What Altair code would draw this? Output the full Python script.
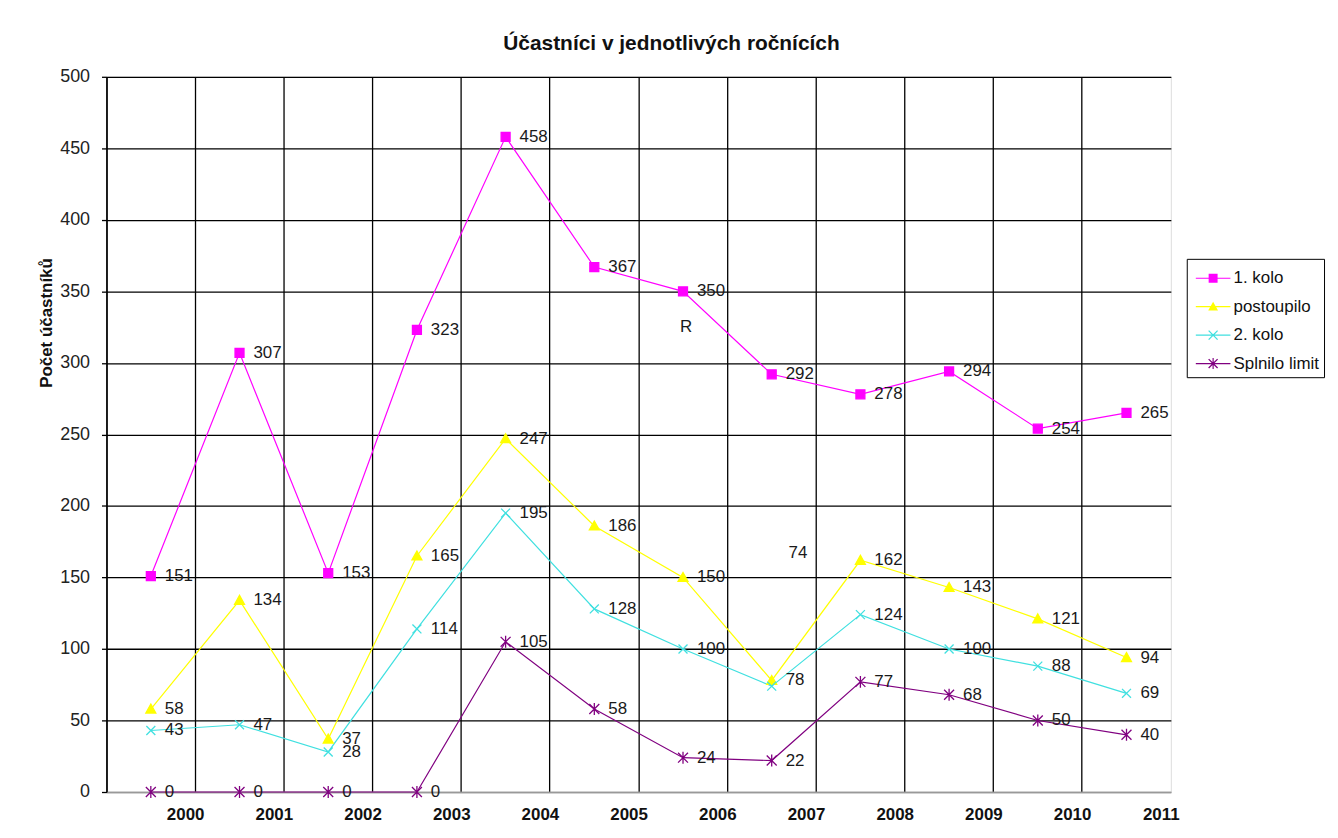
import altair as alt
import pandas as pd

# ---- data ----
years = ["2000", "2001", "2002", "2003", "2004", "2005",
         "2006", "2007", "2008", "2009", "2010", "2011"]
series_names = ["1. kolo", "postoupilo", "2. kolo", "Splnilo limit"]
kolo1 = [151, 307, 153, 323, 458, 367, 350, 292, 278, 294, 254, 265]
postoupilo = [58, 134, 37, 165, 247, 186, 150, 78, 162, 143, 121, 94]
kolo2 = [43, 47, 28, 114, 195, 128, 100, 74, 124, 100, 88, 69]
splnilo = [0, 0, 0, 0, 105, 58, 24, 22, 77, 68, 50, 40]
y_ticks = [0, 50, 100, 150, 200, 250, 300, 350, 400, 450, 500]

# a data label that was dragged away from its point, and a stray letter
moved_label_series = ["2. kolo"]
moved_label_year = ["2007"]
moved_label_value = [167]
stray_text = ["R"]
stray_year = ["2006"]
stray_value = [325]

# ---- styles ----
colors = ["#FF00FF", "#FFFF00", "#40E0E0", "#800080"]
marker_paths = [
    "M-0.9,-0.9H0.9V0.9H-0.9Z",
    "M0,-1L1,0.8H-1Z",
    "M-0.9,-0.9L0.9,0.9M-0.9,0.9L0.9,-0.9",
    "M-1,-1L1,1M-1,1L1,-1M0,-1.2V1.2",
]
# legend symbols: a thin line with the marker on it, built from filled outlines
_LINE = "M-1.2,-0.04H1.2V0.04H-1.2Z"
_D1 = "M-0.278,-0.342L0.342,0.278L0.278,0.342L-0.342,-0.278Z"
_D2 = "M-0.342,0.278L0.278,-0.342L0.342,-0.278L-0.278,0.342Z"
_V = "M-0.04,-0.38H0.04V0.38H-0.04Z"
legend_paths = [
    _LINE + "M-0.31,-0.31H0.31V0.31H-0.31Z",
    _LINE + "M0,-0.34L0.34,0.27H-0.34Z",
    _LINE + _D1 + _D2,
    _LINE + _D1 + _D2 + _V,
]
FONT = "Liberation Sans"

rows = []
for name, vals in zip(series_names, [kolo1, postoupilo, kolo2, splnilo]):
    for yr, v in zip(years, vals):
        rows.append({"year": yr, "series": name, "value": v, "label": str(v)})
df = pd.DataFrame(rows)

moved = set(zip(moved_label_series, moved_label_year))
lab_df = df[[(s, y) not in moved for s, y in zip(df.series, df.year)]]
moved_df = pd.DataFrame({
    "year": moved_label_year,
    "value": moved_label_value,
    "label": [str(df[(df.series == s) & (df.year == y)].value.iloc[0])
              for s, y in zip(moved_label_series, moved_label_year)],
})
stray_df = pd.DataFrame({"year": stray_year, "value": stray_value, "label": stray_text})

x_enc = alt.X(
    "year:O",
    scale=alt.Scale(type="band", domain=years, paddingInner=0, paddingOuter=0),
    axis=alt.Axis(
        title=None, grid=True, gridColor="black", gridWidth=1.3,
        bandPosition=0, ticks=False, domainColor="#999999", domainWidth=1.3,
        labelOffset=35, labelPadding=15, labelAngle=0,
        labelFontSize=17, labelFontWeight="bold", labelColor="#111111",
        labelFont=FONT, labelOverlap=False, labelBound=False, labelFlush=False,
    ),
)
y_enc = alt.Y(
    "value:Q",
    scale=alt.Scale(domain=[0, 500], nice=False),
    axis=alt.Axis(
        values=y_ticks, title="Počet účastníků",
        titleFont=FONT, titleFontSize=17, titleFontWeight="bold", titleColor="#111111",
        titleX=-60, titleY=247, titleBaseline="middle", titleAngle=270,
        grid=True,
        gridColor={"condition": {"test": "datum.value === 0", "value": "#999999"},
                   "value": "black"},
        gridWidth=1.3,
        domainColor="black", domainWidth=1.3, tickColor="black", tickSize=5, tickWidth=1.3,
        labelFontSize=18, labelFont=FONT, labelColor="#222222", labelPadding=12,
    ),
)

base = alt.Chart(df).encode(x=x_enc, y=y_enc)

# lines and markers, one layer per series
line_layers = []
marker_layers = []
for name, col, path in zip(series_names, colors, marker_paths):
    sub = base.transform_filter(alt.datum.series == name)
    line_layers.append(sub.mark_line(color=col, strokeWidth=1.2))
    marker_layers.append(
        sub.mark_point(shape=path, filled=True, size=100, fill=col, stroke=col,
                       strokeWidth=1.3, opacity=1)
    )

# layer that draws nothing itself and only carries the legend (line + marker symbols)
legend_layer = base.transform_filter("false").mark_point(
    filled=True, size=100, opacity=1, fillOpacity=1
).encode(
    color=alt.Color(
        "series:N", scale=alt.Scale(domain=series_names, range=colors),
        legend=alt.Legend(
            title=None, orient="none", legendX=1086, legendY=183,
            strokeColor="black", fillColor="white", padding=5, cornerRadius=0,
            symbolSize=841, rowPadding=5.6, symbolOffset=7, labelOffset=6,
            labelFontSize=17, labelFont=FONT, labelColor="#111111", labelLimit=300,
            symbolStrokeWidth=0, symbolOpacity=1,
        ),
    ),
    shape=alt.Shape("series:N", scale=alt.Scale(domain=series_names, range=legend_paths)),
)

labels = alt.Chart(lab_df).mark_text(
    align="left", baseline="middle", dx=14, fontSize=17, font=FONT, color="#1a1a1a"
).encode(x=x_enc, y=y_enc, text="label:N")

moved_labels = alt.Chart(moved_df).mark_text(
    align="left", baseline="middle", dx=17, fontSize=17, font=FONT, color="#1a1a1a"
).encode(x=x_enc, y=y_enc, text="label:N")

stray = alt.Chart(stray_df).mark_text(
    align="center", baseline="middle", dx=3, fontSize=17, font=FONT, color="#1a1a1a"
).encode(x=x_enc, y=y_enc, text="label:N")

chart = alt.layer(*line_layers, *marker_layers, legend_layer, labels, moved_labels, stray).properties(
    width=1070, height=719,
    title=alt.Title("Účastníci v jednotlivých ročnících", fontSize=21, fontWeight="bold",
                    font=FONT, anchor="middle", dx=33, offset=14, color="#111111"),
    padding={"left": 99, "top": 67, "right": 160, "bottom": 30},
    autosize=alt.AutoSizeParams(type="none"),
).configure_view(stroke="#999999", strokeWidth=1.3).configure(font=FONT, background="white")

chart.save("out.html", embed_options={"renderer": "svg", "actions": False})
